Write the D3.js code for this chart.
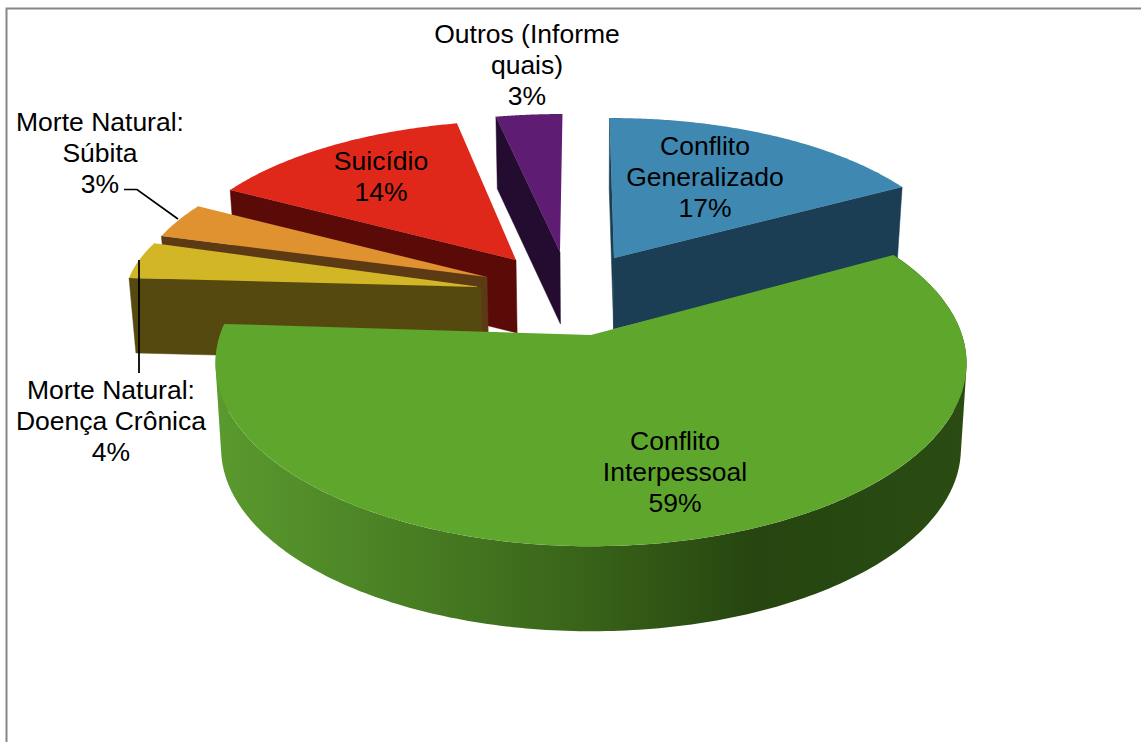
<!DOCTYPE html>
<html><head><meta charset="utf-8">
<script src="https://cdn.jsdelivr.net/npm/d3@7/dist/d3.min.js"></script>
<style>html,body{margin:0;padding:0;background:#fff;overflow:hidden}svg{display:block}text{font-family:"Liberation Sans",Arial,sans-serif;font-size:26.5px;fill:#000;text-anchor:middle}</style>
</head><body><svg id="c" width="1141" height="742"></svg>
<script>
// Data
const categories = ["Conflito Generalizado","Conflito Interpessoal","Morte Natural: Doença Crônica","Morte Natural: Súbita","Suicídio","Outros (Informe quais)"];
const shares = [17,59,4,3,14,3];
const labelLines = [["Conflito","Generalizado","17%"],["Conflito","Interpessoal","59%"],["Morte Natural:","Doença Crônica","4%"],["Morte Natural:","Súbita","3%"],["Suicídio","14%"],["Outros (Informe","quais)","3%"]];

// Styling and perspective view of each exploded slice
// pad: small angle allowance (degrees) because the printed percentages are rounded
const topColors  = ["#3f88b1","#5fa62d","#d3b625","#e09130","#e0281a","#5e1c73"];
const sideColors = ["#1b3e54","#2f5417","#564910","#5c3a14","#5a0b07","#240b30"];
const views = [
  {ax:614,ay:258,a:347,b:154.8,k:.106,d:71,pad:[-.4,0]},
  {ax:591,ay:335,a:371,b:178.5,k:.155,d:85,pad:[0,0]},
  {ax:481,ay:287,a:355,b:145,k:.08,d:75,pad:[0,0]},
  {ax:487,ay:277,a:349,b:150,k:.08,d:72,pad:[-1.8,.5]},
  {ax:516,ay:260,a:343,b:151.2,k:.085,d:73,pad:[0,-1]},
  {ax:560,ay:252,a:354,b:150.4,k:.09,d:72,pad:[-1,0]}
];
const labelPos = [[705,155],[675,450],[111,399],[100,131],[381,170],[527,43]];
const vanishX = 590, depthShrink = .985, lineGap = 31;
const toRad = d3.scaleLinear().domain([0,360]).range([0,2*Math.PI]);

const svg = d3.select("#c");
const arcs = d3.pie().sort(null).startAngle(0).endAngle(2*Math.PI)(shares)
  .map((s,i)=>({startAngle:s.startAngle+toRad(views[i].pad[0]), endAngle:s.endAngle+toRad(views[i].pad[1])}));
const path = d3.line();

function project(v, r, theta, lower){
  const X = r*Math.sin(theta), Y = r*Math.cos(theta), w = 1 + v.k*Y;
  let sx = vanishX + (v.ax - vanishX + v.a*X)/w;
  let sy = v.ay - v.b*Y/w;
  if(lower){ sx = vanishX + (sx - vanishX)*depthShrink; sy += v.d; }
  return [sx, sy];
}
const sweep = (a0,a1,n=120) => d3.range(0,n+1).map(i => a0 + (a1-a0)*i/n);

const grad = svg.append("defs").append("linearGradient").attr("id","greenSide")
  .attr("gradientUnits","userSpaceOnUse").attr("x1",215).attr("x2",966).attr("y1",0).attr("y2",0);
[[0,"#5a9a2e"],[.2,"#4d8526"],[.5,"#386218"],[.72,"#264510"],[1,"#2a4c12"]]
  .forEach(s => grad.append("stop").attr("offset",s[0]).attr("stop-color",s[1]));

// frame
svg.append("path").attr("d","M6.5,742V8.5H1141").attr("fill","none").attr("stroke","#868686").attr("stroke-width",2);

function cutFace(g, v, theta, color){
  g.append("path").attr("d", path([[v.ax,v.ay],project(v,1,theta,false),project(v,1,theta,true),project(v,0,0,true)])+"Z")
   .attr("fill",color).attr("stroke",color).attr("stroke-width",.5);
}
// paint order: back slices first, the large front slice last
[5,4,3,2,0,1].forEach(i => {
  const v = views[i], s = arcs[i], g = svg.append("g");
  if(i===1){
    // outer wall as a union of small quads with one winding, so the silhouette follows the tangents
    const th = sweep(s.startAngle,s.endAngle,240);
    const wall = th.slice(1).map((t,j)=>{
      const q = [project(v,1,th[j],false),project(v,1,t,false),project(v,1,t,true),project(v,1,th[j],true)];
      if(d3.polygonArea(q) < 0) q.reverse();
      return path(q)+"Z";
    }).join("");
    g.append("path").attr("d", wall).attr("fill","url(#greenSide)").attr("fill-rule","nonzero");
  } else if(i===0){
    cutFace(g,v,s.startAngle,sideColors[i]);
    cutFace(g,v,s.endAngle,sideColors[i]);
  } else {
    cutFace(g,v,s.startAngle,sideColors[i]);
  }
  g.append("path").attr("d", path([[v.ax,v.ay]].concat(sweep(s.startAngle,s.endAngle).map(t=>project(v,1,t,false))))+"Z")
    .attr("fill",topColors[i]);
});

// leader lines
svg.append("path").attr("d","M124,189.5H137L178,219").attr("fill","none").attr("stroke","#000").attr("stroke-width",1.7);
svg.append("path").attr("d","M139,260V373").attr("fill","none").attr("stroke","#000").attr("stroke-width",1.8);

// labels
labelLines.forEach((lines,i)=>{
  const t = svg.append("text").attr("aria-label",categories[i]);
  lines.forEach((ln,j)=> t.append("tspan").attr("x",labelPos[i][0]).attr("y",labelPos[i][1]+j*lineGap).text(ln));
});
</script></body></html>
